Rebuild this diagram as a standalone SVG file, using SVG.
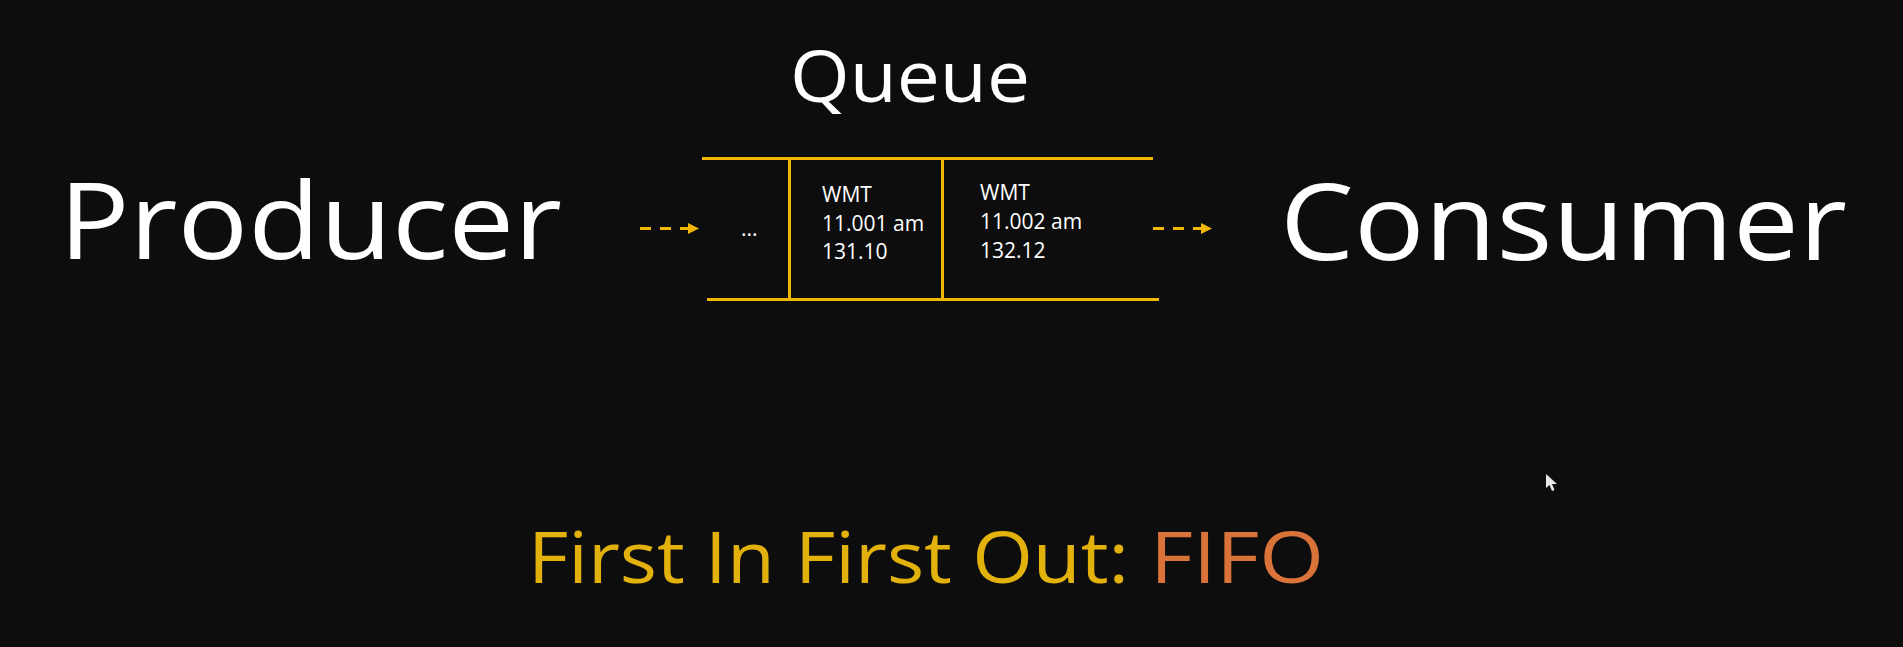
<svg xmlns="http://www.w3.org/2000/svg" width="1903" height="647" viewBox="0 0 1903 647">
  <style>
    .big { font-family: "Open Sans", "Liberation Sans", sans-serif; fill: #ffffff; }
    .cell { font-family: "Open Sans", "Liberation Sans", sans-serif; font-size: 21px; fill: #ffffff; }
    .rail { stroke: #F2B705; stroke-width: 3; fill: none; }
    .flow { stroke: #F2B705; stroke-width: 3; stroke-dasharray: 11 9; fill: none; }
    .motto { font-family: "Open Sans", "Liberation Sans", sans-serif; font-size: 72px; }
  </style>
  <defs>
    <marker id="head" viewBox="0 0 10 10" refX="10" refY="5" markerWidth="12" markerHeight="11" markerUnits="userSpaceOnUse" orient="auto">
      <path d="M0,0 L10,5 L0,10 z" fill="#F2B705"/>
    </marker>
  </defs>

  <rect width="1903" height="647" fill="#0D0D0D"/>

  <!-- title -->
  <text class="big" x="790" y="102" font-size="72" textLength="240" lengthAdjust="spacingAndGlyphs">Queue</text>

  <!-- producer -->
  <g id="producer">
    <text class="big" x="59" y="259" font-size="106" textLength="503" lengthAdjust="spacingAndGlyphs">Producer</text>
  </g>

  <!-- queue body -->
  <g id="queue">
    <line class="rail" x1="702" y1="158.5" x2="1153" y2="158.5"/>
    <line class="rail" x1="707" y1="299.5" x2="1159" y2="299.5"/>
    <line class="rail" x1="789.5" y1="158" x2="789.5" y2="300"/>
    <line class="rail" x1="942.5" y1="158" x2="942.5" y2="300"/>
  </g>

  <g id="slot-more">
    <text class="cell" x="741" y="236">...</text>
  </g>

  <g id="slot-1">
    <text class="cell" x="822" y="202">WMT</text>
    <text class="cell" x="822" y="231">11.001 am</text>
    <text class="cell" x="822" y="259">131.10</text>
  </g>

  <g id="slot-2">
    <text class="cell" x="980" y="200">WMT</text>
    <text class="cell" x="980" y="229">11.002 am</text>
    <text class="cell" x="980" y="258">132.12</text>
  </g>

  <!-- consumer -->
  <g id="consumer">
    <text class="big" x="1280" y="260" font-size="106" textLength="567" lengthAdjust="spacingAndGlyphs">Consumer</text>
  </g>

  <!-- connectors -->
  <g id="connectors">
    <line class="flow" x1="640" y1="228.5" x2="699" y2="228.5" marker-end="url(#head)"/>
    <line class="flow" x1="1153" y1="228.5" x2="1212" y2="228.5" marker-end="url(#head)"/>
  </g>

  <!-- caption -->
  <g id="caption">
    <text class="motto" x="528" y="583" fill="#E3B10C" textLength="601" lengthAdjust="spacingAndGlyphs">First In First Out:</text>
    <text class="motto" x="1150" y="583" fill="#D9733A" textLength="174" lengthAdjust="spacingAndGlyphs">FIFO</text>
  </g>

  <!-- pointer -->
  <polygon points="1546,474 1546,488 1549.5,485 1552,491 1554.5,490 1552,484 1557,484" fill="#e8e8e8"/>
</svg>
